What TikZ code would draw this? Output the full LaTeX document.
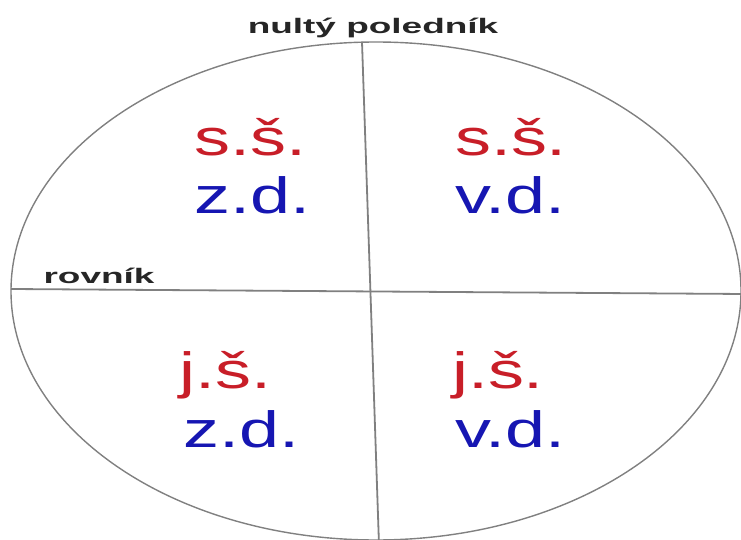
\documentclass[tikz,border=0pt]{standalone}
\usepackage{fontspec}
\setmainfont{Liberation Sans}
\definecolor{latred}{RGB}{200,30,40}
\definecolor{lonblue}{RGB}{22,22,178}
\definecolor{linegray}{RGB}{128,128,128}
\begin{document}
\begin{tikzpicture}[x=1pt,y=-1pt,
  big/.style={inner sep=0pt,anchor=base},
  lat/.style={big,text=latred},
  lon/.style={big,text=lonblue},
  lbl/.style={inner sep=0pt,anchor=base,text=black!85},
  axis/.style={draw=linegray,line width=1.8pt},
  rim/.style={draw=linegray,line width=1.4pt}]
\useasboundingbox (0,0) rectangle (741,540);
\newcommand{\bigtxt}[1]{\scalebox{1.41}[1]{\fontsize{51}{51}\selectfont #1}}
\newcommand{\smalltxt}[1]{\scalebox{1.76}[1]{\fontsize{21}{21}\selectfont\bfseries #1}}
\begin{scope}
\clip (0,0) rectangle (741,540);
\draw[rim] (376,291) ellipse [x radius=365, y radius=249];
\coordinate (mt) at (362,42);
\coordinate (mb) at (379,545);
\coordinate (el) at (11,289);
\coordinate (er) at (745,294);
\draw[axis] (mt) -- (mb);
\draw[axis] (el) -- (er);
\end{scope}
\node[lbl] (pm) at (373,34) {\smalltxt{nultý poledník}};
\node[lbl] (eq) at (99,283) {\smalltxt{rovník}};
\node[lat] (nw1) at (250.5,156) {\bigtxt{s.š.}};
\node[lon] (nw2) at (252.5,214) {\bigtxt{z.d.}};
\node[lat] (ne1) at (511,156) {\bigtxt{s.š.}};
\node[lon] (ne2) at (510.5,214) {\bigtxt{v.d.}};
\node[lat] (sw1) at (225.5,388) {\bigtxt{j.š.}};
\node[lon] (sw2) at (241.5,447) {\bigtxt{z.d.}};
\node[lat] (se1) at (498,388) {\bigtxt{j.š.}};
\node[lon] (se2) at (510.5,447) {\bigtxt{v.d.}};
\end{tikzpicture}
\end{document}
